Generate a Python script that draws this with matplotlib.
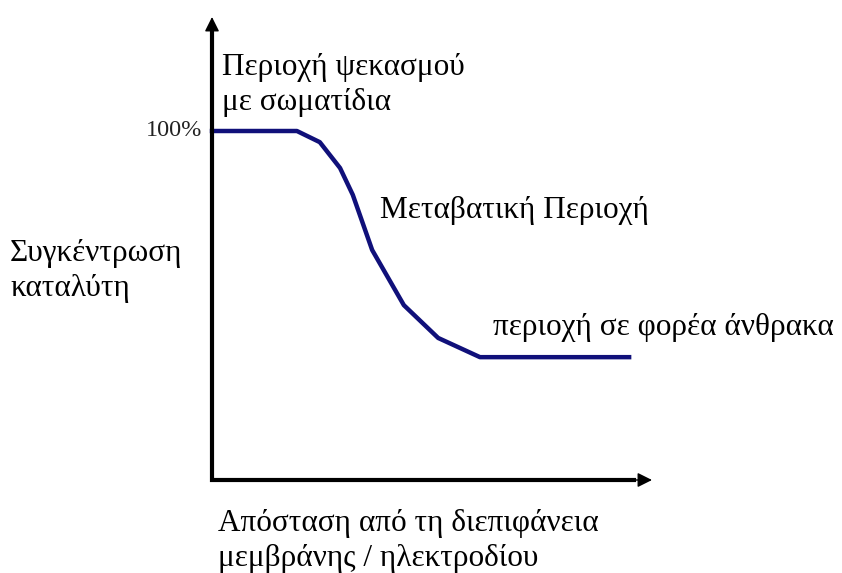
import matplotlib
matplotlib.use("Agg")
import matplotlib.pyplot as plt

# catalyst concentration profile vs distance from membrane/electrode interface
distance = [0, 19.3, 24.5, 29.1, 32.0, 36.4, 43.6, 51.4, 60.9, 94.8]   # % of axis length
concentration = [100, 100, 96.8, 89.4, 81.7, 65.9, 50.1, 40.7, 35.2, 35.2]  # %

y_label = ["Συγκέντρωση", "καταλύτη"]
x_label = ["Απόσταση από τη διεπιφάνεια", "μεμβράνης / ηλεκτροδίου"]
region_labels = ["Περιοχή ψεκασμού\nμε σωματίδια", "Μεταβατική Περιοχή", "περιοχή σε φορέα άνθρακα"]

W, H = 842, 573
fig = plt.figure(figsize=(W / 100, H / 100), dpi=100)
plt.rcParams['font.family'] = ['Liberation Serif', 'DejaVu Serif']

def px(x, y):
    return x / W, 1 - y / H

# axes origin at (212, 480) px
ytop = 463 / 349 * 100
ax = fig.add_axes([212 / W, (H - 480) / H, 440 / W, 463 / H])
ax.set_xlim(0, 100)
ax.set_ylim(0, ytop)
ax.axis('off')

ax.plot(distance, concentration, color='#10107a', lw=3.2, solid_joinstyle='round', clip_on=False)

# axes as an L with arrow heads
ax.plot([0, 0, 96], [ytop - 3, 0, 0], color='black', lw=3.0, solid_joinstyle='miter',
        solid_capstyle='projecting', clip_on=False)
arrow = dict(arrowstyle='-|>', lw=1, color='black', mutation_scale=22, shrinkA=0, shrinkB=0)
ax.annotate('', xy=(100, 0), xytext=(95, 0), arrowprops=arrow, annotation_clip=False)
ax.annotate('', xy=(0, ytop), xytext=(0, ytop - 5), arrowprops=arrow, annotation_clip=False)

fs = 22.5
ax.text(-2.2, 100, "100%", ha='right', va='center', fontsize=17.5, color='#222222')
fig.text(*px(222, 85), region_labels[0], fontsize=fs, ha='left', va='center', linespacing=1.25)
fig.text(*px(380, 210), region_labels[1], fontsize=fs, ha='left', va='center')
fig.text(*px(493, 327), region_labels[2], fontsize=fs, ha='left', va='center')
fig.text(*px(10, 271), "\n".join(y_label), fontsize=fs, ha='left', va='center', linespacing=1.25)
fig.text(*px(218, 541), "\n".join(x_label), fontsize=fs, ha='left', va='center', linespacing=1.25)

fig.savefig("out.png", dpi=100)
